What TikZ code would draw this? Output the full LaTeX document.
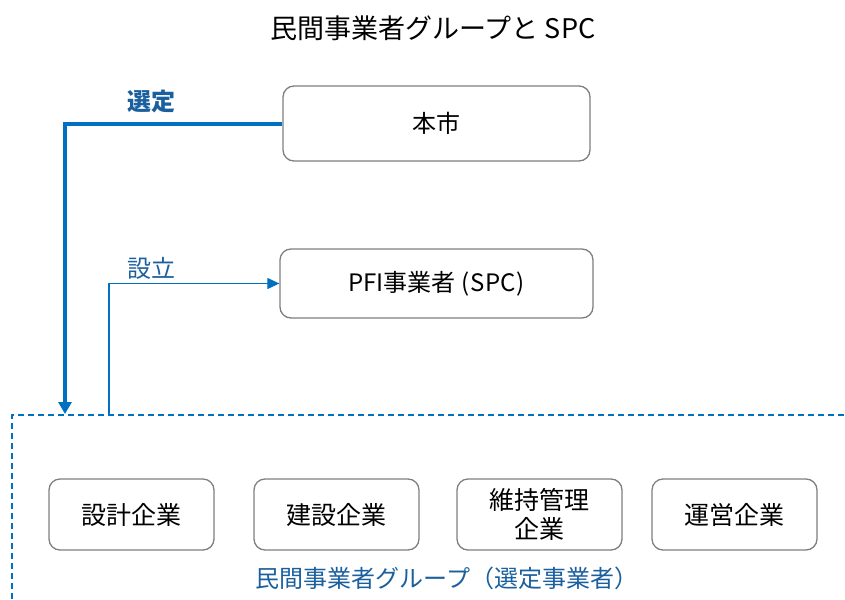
\documentclass[tikz,border=0pt]{standalone}
\usepackage{fontspec}
\setmainfont{Liberation Sans}
\newfontfamily\jp{Noto Sans CJK JP}
\usetikzlibrary{arrows.meta}
\definecolor{lineblue}{HTML}{0070C0}
\definecolor{textblue}{HTML}{1A5F9E}
\definecolor{boxgray}{HTML}{7F7F7F}
\begin{document}
\begin{tikzpicture}[x=1pt,y=-1pt,
  box/.style={draw=boxgray,line width=1.3pt,rounded corners=11pt,fill=white,inner sep=0pt,align=center,font=\jp\fontsize{25}{29}\selectfont},
  lbl/.style={text=textblue,font=\jp\fontsize{24}{28}\selectfont,inner sep=0pt}]
\useasboundingbox (0,0) rectangle (845,599);
\node[font=\jp\fontsize{27}{31}\selectfont] (title) at (433,28) {民間事業者グループと SPC};
\node[box,font=\jp\fontsize{24}{28}\selectfont,minimum width=307pt,minimum height=75pt] (city) at (436.5,123.5) {本市};
\node[box,font=\jp\fontsize{24}{28}\selectfont,minimum width=313pt,minimum height=69pt] (spc) at (436.5,283.5) {PFI事業者\hspace{6pt}(\hspace{1pt}SPC\hspace{1pt})};
\node[box,minimum width=165pt,minimum height=71pt] (b1) at (131.5,514.5) {設計企業};
\node[box,minimum width=165pt,minimum height=71pt] (b2) at (336.5,514.5) {建設企業};
\node[box,minimum width=165pt,minimum height=71pt] (b3) at (539.5,514.5) {維持管理\\企業};
\node[box,minimum width=165pt,minimum height=71pt] (b4) at (734.5,514.5) {運営企業};
\coordinate (tl) at (12,415);
\coordinate (tr) at (845,415);
\coordinate (bl) at (12,599);
\draw[lineblue,line width=1.2pt,dash pattern=on 6pt off 4pt] (bl) -- (tl) -- (tr);
\coordinate (selend) at (65,414);
\coordinate (estart) at (109,415);
\draw[lineblue,line width=4pt,-{Triangle[length=12pt,width=13pt]}] (city.west) -| (selend);
\draw[lineblue,line width=1.2pt,-{Triangle[length=12pt,width=11pt]}] (estart) |- (spc.west);
\node[lbl,font=\jp\bfseries\fontsize{24}{28}\selectfont] (sel) at (151,101) {選定};
\node[lbl] (est) at (151,268) {設立};
\node[lbl] (grp) at (447,578) {民間事業者グループ（選定事業者）};
\end{tikzpicture}
\end{document}
